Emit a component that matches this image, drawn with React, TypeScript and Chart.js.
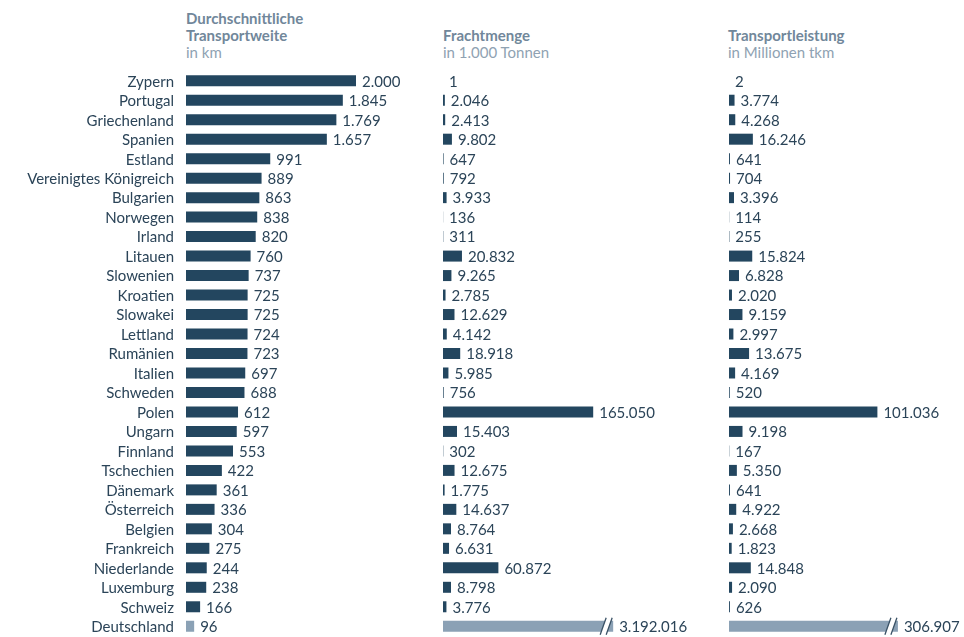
import React, { useEffect, useRef } from "react";
import { Chart, registerables } from "chart.js";
Chart.register(...registerables);

const countries = [
  "Zypern", "Portugal", "Griechenland", "Spanien", "Estland", "Vereinigtes Königreich",
  "Bulgarien", "Norwegen", "Irland", "Litauen", "Slowenien", "Kroatien", "Slowakei",
  "Lettland", "Rumänien", "Italien", "Schweden", "Polen", "Ungarn", "Finnland",
  "Tschechien", "Dänemark", "Österreich", "Belgien", "Frankreich", "Niederlande",
  "Luxemburg", "Schweiz", "Deutschland",
];
const distanceKm = [2000, 1845, 1769, 1657, 991, 889, 863, 838, 820, 760, 737, 725, 725, 724, 723, 697, 688, 612, 597, 553, 422, 361, 336, 304, 275, 244, 238, 166, 96];
const freightKt = [1, 2046, 2413, 9802, 647, 792, 3933, 136, 311, 20832, 9265, 2785, 12629, 4142, 18918, 5985, 756, 165050, 15403, 302, 12675, 1775, 14637, 8764, 6631, 60872, 8798, 3776, 3192016];
const tkmMio = [2, 3774, 4268, 16246, 641, 704, 3396, 114, 255, 15824, 6828, 2020, 9159, 2997, 13675, 4169, 520, 101036, 9198, 167, 5350, 641, 4922, 2668, 1823, 14848, 2090, 626, 306907];

const highlightCountry = "Deutschland";
const FREIGHT_BREAK = 187000;
const TKM_BREAK = 115000;

const DARK = "#23465f";
const LIGHT = "#8ba1b5";
const TEXT = "#2b4458";
const FONT = "Lato, 'Open Sans', sans-serif";

const fmt = (v: number) => String(v).replace(/\B(?=(\d{3})+(?!\d))/g, ".");

type PanelProps = {
  values: number[];
  max: number;
  breakAt?: number;
  left: number;
  width: number;
  labelSpace?: number;
};

const TOP = 71;
const HEIGHT = 565;

function Panel({ values, max, breakAt, left, width, labelSpace = 0 }: PanelProps) {
  const ref = useRef<HTMLCanvasElement | null>(null);
  useEffect(() => {
    if (!ref.current) return;
    const display = values.map((v) => (breakAt && v > breakAt ? breakAt : v));
    const colors = countries.map((c) => (c === highlightCountry ? LIGHT : DARK));
    const labelPlugin = {
      id: "valueLabels",
      afterDatasetsDraw(chart: any) {
        const ctx = chart.ctx;
        const meta = chart.getDatasetMeta(0);
        ctx.save();
        meta.data.forEach((bar: any, i: number) => {
          const p = bar.getProps(["x", "y", "base", "height"], true);
          const v = values[i];
          if (breakAt && v > breakAt) {
            const xe = p.x;
            const top = p.y - p.height / 2 - 3;
            const bot = p.y + p.height / 2 + 3;
            const c1 = xe - 10;
            const c2 = xe - 4;
            const s = 3;
            ctx.fillStyle = "#ffffff";
            ctx.beginPath();
            ctx.moveTo(c1 - s, bot);
            ctx.lineTo(c1 + s, top);
            ctx.lineTo(c2 + s, top);
            ctx.lineTo(c2 - s, bot);
            ctx.closePath();
            ctx.fill();
            ctx.strokeStyle = "#3a5266";
            ctx.lineWidth = 1.3;
            ctx.beginPath();
            ctx.moveTo(c1 - s, bot);
            ctx.lineTo(c1 + s, top);
            ctx.moveTo(c2 - s, bot);
            ctx.lineTo(c2 + s, top);
            ctx.stroke();
          }
          ctx.fillStyle = TEXT;
          ctx.font = `15px ${FONT}`;
          ctx.textBaseline = "middle";
          ctx.textAlign = "left";
          ctx.fillText(fmt(v), Math.max(p.x, p.base) + 6, p.y + 1);
          if (labelSpace) {
            ctx.textAlign = "right";
            ctx.fillText(String(chart.data.labels[i]), chart.chartArea.left - 12, p.y + 1);
          }
        });
        ctx.restore();
      },
    };
    const chart = new Chart(ref.current, {
      type: "bar",
      data: {
        labels: countries,
        datasets: [
          {
            data: display,
            backgroundColor: colors,
            barThickness: 11,
            borderWidth: 0,
            inflateAmount: 0,
          },
        ],
      },
      options: {
        indexAxis: "y",
        animation: false,
        responsive: false,
        devicePixelRatio: 1,
        layout: { padding: { left: labelSpace, right: 0, top: 0, bottom: 0 } },
        plugins: { legend: { display: false }, tooltip: { enabled: false }, title: { display: false } },
        scales: {
          x: { display: false, min: 0, max },
          y: { display: false },
        },
      },
      plugins: [labelPlugin],
    });
    return () => chart.destroy();
  }, []);
  return (
    <canvas
      ref={ref}
      width={width}
      height={HEIGHT}
      style={{ position: "absolute", left, top: TOP, width, height: HEIGHT }}
    />
  );
}

const headStyle: React.CSSProperties = {
  position: "absolute",
  fontFamily: FONT,
  fontSize: 15,
  lineHeight: "17px",
  color: "#71879a",
};
const bold: React.CSSProperties = { fontWeight: 700 };
const sub: React.CSSProperties = { color: "#8fa2b2" };

export default function App() {
  return (
    <div style={{ position: "absolute", left: 0, top: 0, width: 964, height: 637, background: "#fff", overflow: "hidden" }}>
      <div style={{ ...headStyle, left: 186, top: 10 }}>
        <div style={bold}>Durchschnittliche</div>
        <div style={bold}>Transportweite</div>
        <div style={sub}>in km</div>
      </div>
      <div style={{ ...headStyle, left: 443, top: 27 }}>
        <div style={bold}>Frachtmenge</div>
        <div style={sub}>in 1.000 Tonnen</div>
      </div>
      <div style={{ ...headStyle, left: 728, top: 27 }}>
        <div style={bold}>Transportleistung</div>
        <div style={sub}>in Millionen tkm</div>
      </div>
      <Panel values={distanceKm} max={3000} left={0} width={441} labelSpace={186} />
      <Panel values={freightKt} max={300000} breakAt={FREIGHT_BREAK} left={443} width={273} />
      <Panel values={tkmMio} max={160000} breakAt={TKM_BREAK} left={729} width={235} />
    </div>
  );
}
